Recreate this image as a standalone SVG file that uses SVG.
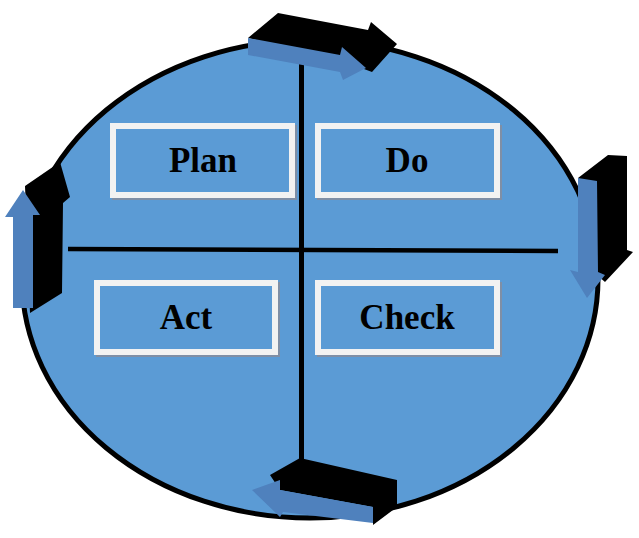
<svg xmlns="http://www.w3.org/2000/svg" width="639" height="538" viewBox="0 0 639 538">
<style>
.box{fill:#5B9BD5;stroke:#F2F2F2;stroke-width:6}
.sh{fill:none;stroke:#7F8FA6;stroke-width:6}
.lbl{font-family:"Liberation Serif",serif;font-weight:bold;font-size:35px;fill:#000;text-anchor:middle}
.blk{fill:#000}
.face{fill:#4F81BD}
</style>
<rect width="639" height="538" fill="#fff"/>
<g id="cycle">
<ellipse cx="310" cy="279" rx="288" ry="239" fill="#5B9BD5" stroke="#000" stroke-width="5"/>
</g>
<g id="connectors">
<line x1="301.5" y1="62" x2="301.5" y2="472" stroke="#000" stroke-width="5"/>
<line x1="68" y1="249" x2="558" y2="251" stroke="#000" stroke-width="4.5"/>
<g id="arrow-top">
<polygon class="blk" points="248,38 278,13 368,30 371,22 397,44 372,72 340,60"/>
<polygon class="face" points="248,38 340,55 342,47 366,68 343,80 340,72 248,55"/>
</g>
<g id="arrow-right">
<polygon class="blk" points="578,178 608,155 627,156 627,250 633,252 605,282 597,275"/>
<polygon class="face" points="578,178 597,181 598,272 605,275 587,298 570,270 578,272"/>
</g>
<g id="arrow-bottom">
<polygon class="blk" points="270,475 300,458 397,480 397,507 373,525 373,507 280,490"/>
<polygon class="face" points="252,490 280,480 280,490 373,507 373,523 283,512 280,517"/>
</g>
<g id="arrow-left">
<polygon class="blk" points="25,186 60,162 70,197 63,203 62,293 30,313"/>
<polygon class="face" points="13,308 13,217 5,217 23,190 40,215 33,215 33,308"/>
</g>
</g>
<g id="plan">
<rect class="sh" x="115" y="128" width="179" height="69"/>
<rect class="box" x="113" y="126" width="179" height="69"/>
<text class="lbl" x="203" y="172">Plan</text>
</g>
<g id="do">
<rect class="sh" x="320" y="128" width="179" height="69"/>
<rect class="box" x="318" y="126" width="179" height="69"/>
<text class="lbl" x="407" y="172">Do</text>
</g>
<g id="act">
<rect class="sh" x="99" y="285" width="178" height="69"/>
<rect class="box" x="97" y="283" width="178" height="69"/>
<text class="lbl" x="186" y="329">Act</text>
</g>
<g id="check">
<rect class="sh" x="320" y="285" width="179" height="69"/>
<rect class="box" x="318" y="283" width="179" height="69"/>
<text class="lbl" x="407" y="329">Check</text>
</g>
</svg>
